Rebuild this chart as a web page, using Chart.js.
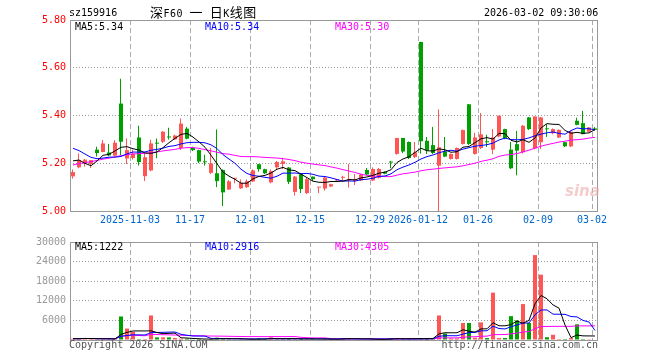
<!DOCTYPE html>
<html><head><meta charset="utf-8">
<script src="https://cdn.jsdelivr.net/npm/chart.js@4.4.1/dist/chart.umd.min.js"></script>
<style>
html,body{margin:0;padding:0;background:#fff;}
body{width:660px;height:360px;overflow:hidden;position:relative;font-family:"DejaVu Sans Mono",monospace;}
.t{position:absolute;white-space:pre;font-size:10px;line-height:12px;color:#000;}
canvas{position:absolute;left:0;}
.cj{font-family:"Noto Sans CJK SC";font-size:13px;}
</style></head><body>
<canvas id="k" width="660" height="232" style="top:0"></canvas>
<canvas id="v" width="660" height="128" style="top:232px"></canvas>
<div class="t" style="left:69px;top:7px">sz159916</div>
<div class="t" style="left:150px;top:4px;font-size:10px;line-height:16px;letter-spacing:0.5px"><span class="cj">深</span>F60 <span class="cj">一</span> <span class="cj">日</span>K<span class="cj">线图</span></div>
<div class="t" style="left:484px;top:7px">2026-03-02 09:30:06</div>
<div class="t" id="lg1" style="left:75px;top:21px"></div>
<div class="t" id="lg2" style="left:205px;top:21px;color:#0000ff"></div>
<div class="t" id="lg3" style="left:335px;top:21px;color:#ff00ff"></div>
<div class="t" id="vg1" style="left:75px;top:241px"></div>
<div class="t" id="vg2" style="left:205px;top:241px;color:#0000ff"></div>
<div class="t" id="vg3" style="left:335px;top:241px;color:#ff00ff"></div>
<div class="t" style="left:565px;top:182px;font-family:'DejaVu Sans';font-style:italic;font-weight:bold;font-size:15px;line-height:18px;color:rgba(235,170,170,0.6)">sina</div>
<div class="t" style="left:69px;top:339px;color:#555">Copyright 2026 SINA.COM</div>
<div class="t" style="right:62px;top:339px;color:#555">http://finance.sina.com.cn</div>
<script>
// ---- data ----
const dates = [
"2025-10-20","2025-10-21","2025-10-22","2025-10-23","2025-10-24","2025-10-27","2025-10-28","2025-10-29","2025-10-30","2025-10-31",
"2025-11-03","2025-11-04","2025-11-05","2025-11-06","2025-11-07","2025-11-10","2025-11-11","2025-11-12","2025-11-13","2025-11-14",
"2025-11-17","2025-11-18","2025-11-19","2025-11-20","2025-11-21","2025-11-24","2025-11-25","2025-11-26","2025-11-27","2025-11-28",
"2025-12-01","2025-12-02","2025-12-03","2025-12-04","2025-12-05","2025-12-08","2025-12-09","2025-12-10","2025-12-11","2025-12-12",
"2025-12-15","2025-12-16","2025-12-17","2025-12-18","2025-12-19","2025-12-22","2025-12-23","2025-12-24","2025-12-25","2025-12-26",
"2025-12-29","2025-12-30","2025-12-31","2026-01-05","2026-01-06","2026-01-07","2026-01-08","2026-01-09","2026-01-12","2026-01-13",
"2026-01-14","2026-01-15","2026-01-16","2026-01-19","2026-01-20","2026-01-21","2026-01-22","2026-01-23","2026-01-26","2026-01-27",
"2026-01-28","2026-01-29","2026-01-30","2026-02-02","2026-02-03","2026-02-04","2026-02-05","2026-02-06","2026-02-09","2026-02-10",
"2026-02-11","2026-02-12","2026-02-13","2026-02-24","2026-02-25","2026-02-26","2026-02-27","2026-03-02"];
const opens = [5.145,5.183,5.198,5.197,5.257,5.247,5.245,5.232,5.450,5.220,
5.222,5.308,5.146,5.170,5.285,5.290,5.310,5.300,5.264,5.345,
5.265,5.255,5.207,5.160,5.158,5.172,5.090,5.135,5.095,5.100,
5.124,5.196,5.175,5.120,5.183,5.197,5.182,5.080,5.154,5.075,
5.144,5.098,5.094,5.103,5.128,5.139,5.128,5.127,5.128,5.172,
5.128,5.139,5.164,5.205,5.239,5.306,5.289,5.226,5.708,5.294,
5.276,5.190,5.250,5.218,5.218,5.281,5.447,5.239,5.264,5.290,
5.257,5.312,5.343,5.257,5.280,5.246,5.392,5.262,5.288,5.345,
5.326,5.308,5.288,5.271,5.378,5.368,5.332,5.346];
const closes = [5.163,5.213,5.215,5.213,5.243,5.283,5.233,5.286,5.290,5.255,
5.240,5.205,5.225,5.283,5.282,5.332,5.308,5.316,5.366,5.303,
5.255,5.207,5.204,5.199,5.125,5.078,5.124,5.137,5.118,5.125,
5.170,5.175,5.158,5.167,5.205,5.208,5.122,5.144,5.092,5.133,
5.133,5.100,5.140,5.112,5.133,5.141,5.133,5.133,5.153,5.153,
5.176,5.176,5.156,5.203,5.306,5.249,5.222,5.246,5.292,5.253,
5.243,5.267,5.228,5.239,5.264,5.339,5.281,5.308,5.321,5.288,
5.308,5.399,5.306,5.179,5.253,5.357,5.343,5.396,5.392,5.342,
5.343,5.340,5.271,5.332,5.361,5.322,5.350,5.340];
const highs = [5.175,5.242,5.218,5.215,5.270,5.297,5.282,5.297,5.555,5.305,
5.258,5.358,5.242,5.300,5.305,5.335,5.350,5.320,5.388,5.352,
5.270,5.258,5.237,5.265,5.342,5.175,5.130,5.138,5.133,5.133,
5.175,5.197,5.178,5.175,5.210,5.224,5.185,5.147,5.160,5.140,
5.146,5.100,5.145,5.115,5.135,5.149,5.197,5.155,5.155,5.180,
5.183,5.180,5.167,5.210,5.306,5.306,5.292,5.289,5.710,5.310,
5.353,5.426,5.310,5.242,5.267,5.342,5.448,5.329,5.410,5.320,
5.343,5.400,5.346,5.290,5.336,5.360,5.395,5.397,5.394,5.365,
5.347,5.342,5.290,5.336,5.392,5.420,5.352,5.352];
const lows = [5.135,5.178,5.185,5.180,5.227,5.245,5.228,5.230,5.235,5.197,
5.215,5.190,5.125,5.165,5.220,5.285,5.298,5.298,5.255,5.300,
5.250,5.200,5.190,5.154,5.100,5.020,5.088,5.115,5.092,5.095,
5.120,5.164,5.155,5.115,5.175,5.175,5.112,5.064,5.075,5.070,
5.125,5.074,5.085,5.100,5.125,5.125,5.097,5.108,5.125,5.150,
5.125,5.135,5.153,5.178,5.236,5.242,5.218,5.222,5.240,5.239,
5.239,5.000,5.225,5.215,5.215,5.278,5.275,5.236,5.260,5.268,
5.239,5.308,5.300,5.175,5.149,5.240,5.338,5.258,5.260,5.310,
5.320,5.305,5.268,5.268,5.358,5.320,5.330,5.338];
const volumes = [400,400,600,400,200,400,200,400,7200,3500,
2500,300,300,7500,800,800,800,600,400,400,
200,300,200,300,700,500,300,200,300,200,
300,400,300,800,300,300,400,300,400,300,
300,200,300,300,200,600,600,200,200,200,
300,200,200,600,600,300,300,300,600,400,
600,7500,2000,500,500,5200,5200,700,5400,600,
14500,600,600,7300,6000,11000,5200,26000,20000,850,
1600,300,300,600,4800,300,250,160];
// closes before the visible window, inferred from where the MA lines start
const prevCloses = [5.06,5.08,5.09,5.10,5.11,5.12,5.12,5.13,
5.14,5.15,5.17,5.18,5.19,5.20,5.20,5.21,5.22,5.22,5.23,5.247,
5.31,5.36,5.35,5.30,5.257,5.195,5.285,5.263,5.144];
const tickDates = ["2025-11-03","2025-11-17","2025-12-01","2025-12-15","2025-12-29","2026-01-12","2026-01-26","2026-02-09","2026-03-02"];
const tickText  = ["2025-11-03","11-17","12-01","12-15","12-29","2026-01-12","01-26","02-09","03-02"];
const priceLegend = ["MA5:5.34","MA10:5.34","MA30:5.30"];
const volLegend = ["MA5:1222","MA10:2916","MA30:4305"];

// ---- derived ----
document.getElementById('lg1').textContent = priceLegend[0];
document.getElementById('lg2').textContent = priceLegend[1];
document.getElementById('lg3').textContent = priceLegend[2];
document.getElementById('vg1').textContent = volLegend[0];
document.getElementById('vg2').textContent = volLegend[1];
document.getElementById('vg3').textContent = volLegend[2];

const UP = '#ff5555', DOWN = '#00a000';
const colors = closes.map((c,i)=> c>=opens[i] ? UP : DOWN);
function ma(series, prev, n){
  const all = prev.concat(series), off = prev.length;
  return series.map((_,i)=>{
    const end = off+i, start = Math.max(0,end-n+1);
    let s=0; for(let k=start;k<=end;k++) s+=all[k];
    return s/(end-start+1);
  });
}
const tickMap = {};
tickDates.forEach((d,k)=>{ tickMap[dates.indexOf(d)] = tickText[k]; });
const MONO = {family:'DejaVu Sans Mono', size:10};

const framePlugin = {id:'frame', afterDraw(chart){
  const {ctx, chartArea:a} = chart;
  ctx.save(); ctx.strokeStyle='#999'; ctx.lineWidth=1;
  ctx.strokeRect(Math.round(a.left)+0.5, Math.round(a.top)+0.5, Math.round(a.right-a.left)-1, Math.round(a.bottom-a.top));
  ctx.restore();
}};
const lineDs = (data,color)=>({type:'line', data, borderColor:color, borderWidth:1, pointRadius:0, tension:0, order:0});
const xScale = (showTicks, h)=>({
  offset:true,
  grid:{offset:true, drawTicks:false, lineWidth:1, color: c => tickMap[c.index]!==undefined ? '#aaa' : 'rgba(0,0,0,0)'},
  border:{display:false, dash:[5,3]},
  ticks:{display:showTicks, autoSkip:false, maxRotation:0, minRotation:0, padding:3, labelOffset:-3, color:'#0066cc', font:MONO,
         callback:(v,i)=> tickMap[i] || ''},
  afterFit: s => { s.height = h; }
});

new Chart(document.getElementById('k'), {
  type:'bar',
  data:{labels:dates, datasets:[
    lineDs(ma(closes,prevCloses,5),'#000000'),
    lineDs(ma(closes,prevCloses,10),'#0000ff'),
    lineDs(ma(closes,prevCloses,30),'#ff00ff'),
    {data: opens.map((o,i)=>[o,closes[i]]), backgroundColor:colors, barThickness:4, minBarLength:1, grouped:false, inflateAmount:0, borderWidth:0, order:1},
    {data: lows.map((l,i)=>[l,highs[i]]), backgroundColor:colors, borderColor:'rgba(0,0,0,0)', borderWidth:{right:1,left:0,top:0,bottom:0}, borderSkipped:false, barThickness:2, grouped:false, inflateAmount:0, order:2}
  ]},
  options:{
    responsive:false, animation:false, events:[],
    layout:{padding:{left:0,right:62,top:20,bottom:0}},
    plugins:{legend:{display:false}, tooltip:{enabled:false}},
    scales:{
      x: xScale(true, 21),
      y:{min:5, max:5.8,
         ticks:{stepSize:0.2, color:'#ff0000', padding:4, font:MONO, callback:v=>Number(v).toFixed(2)},
         grid:{drawTicks:false, color: c => (c.tick && c.tick.value>5.01 && c.tick.value<5.79) ? '#999' : 'rgba(0,0,0,0)'},
         border:{display:false, dash:[1,2]},
         afterFit: s => { s.width = 70; }}
    }
  },
  plugins:[framePlugin]
});

new Chart(document.getElementById('v'), {
  type:'bar',
  data:{labels:dates, datasets:[
    lineDs(ma(volumes,[],5),'#000000'),
    lineDs(ma(volumes,[],10),'#0000ff'),
    lineDs(ma(volumes,[],30),'#ff00ff'),
    {data: volumes, backgroundColor:colors, barThickness:4, grouped:false, inflateAmount:0, borderWidth:0, order:1}
  ]},
  options:{
    responsive:false, animation:false, events:[],
    layout:{padding:{left:0,right:62,top:8,bottom:0}},
    plugins:{legend:{display:false}, tooltip:{enabled:false}},
    scales:{
      x: xScale(false, 20),
      y:{min:0, max:30000,
         ticks:{stepSize:6000, color:'#999', padding:4, font:MONO, callback:v=> v===0 ? '' : String(v)},
         grid:{drawTicks:false, color: c => (c.tick && c.tick.value>0 && c.tick.value<30000) ? '#999' : 'rgba(0,0,0,0)'},
         border:{display:false, dash:[1,2]},
         afterFit: s => { s.width = 70; }}
    }
  },
  plugins:[framePlugin]
});
</script>
</body></html>
